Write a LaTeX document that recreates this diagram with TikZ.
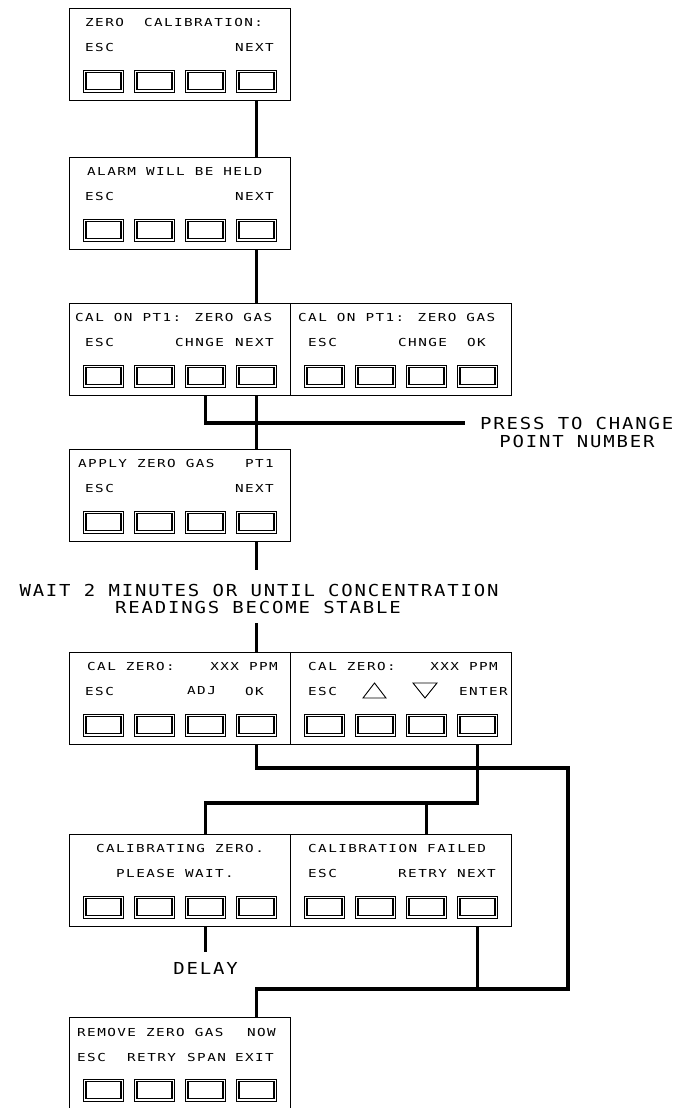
\documentclass[tikz,border=0pt]{standalone}
\usepackage{fontspec}
\setmainfont{DejaVu Sans}
\newfontfamily\lcdfont[FakeStretch=1.3,LetterSpace=13]{DejaVu Sans Mono}
\newfontfamily\notefont[FakeStretch=1.15,LetterSpace=11]{DejaVu Sans Mono}
\newcommand{\lcdpanel}[3]{%
	\node[panel] (#1) at (#2+110.5,#3+46) {};
	\foreach \k in {1,...,4}
		\node[key] (#1k\k) at (#2+34.5+51*\k-51,#3+73) {};
}
\begin{document}
\begin{tikzpicture}[x=1pt,y=-1pt,
		panel/.style={draw,line width=0.9pt,minimum width=221pt,minimum height=92pt,inner sep=0pt},
		key/.style={draw,line width=0.5pt,minimum width=40pt,minimum height=22pt,inner sep=0pt,
			path picture={\draw[line width=1.7pt] ([shift={(2.4pt,2.4pt)}]path picture bounding box.south west) rectangle ([shift={(-2.4pt,-2.4pt)}]path picture bounding box.north east);}},
		lcd/.style={inner sep=0pt,font=\lcdfont\fontsize{11}{13}\selectfont},
		note/.style={inner sep=0pt,font=\notefont\fontsize{16.5}{18}\selectfont},
		wire/.style={line width=3.6pt}]
			\useasboundingbox (0,0) rectangle (678,1108);
			\lcdpanel{p1}{69}{8}
			\lcdpanel{p2}{69}{157}
			\lcdpanel{p3a}{69}{303}
			\lcdpanel{p3b}{290}{303}
			\lcdpanel{p4}{69}{449}
			\lcdpanel{p5a}{69}{652}
			\lcdpanel{p5b}{290}{652}
			\lcdpanel{p6a}{69}{834}
			\lcdpanel{p6b}{290}{834}
			\lcdpanel{p7}{69}{1017}
			\node[lcd,anchor=west] (p1t) at (85,22) {ZERO\ \ CALIBRATION:};
			\node[lcd,anchor=west] (p1esc) at (85,47) {ESC};
			\node[lcd,anchor=east] (p1next) at (274,47) {NEXT};
			\node[lcd,anchor=west] (p2t) at (87,171) {ALARM WILL BE HELD};
			\node[lcd,anchor=west] (p2esc) at (85,196) {ESC};
			\node[lcd,anchor=east] (p2next) at (274,196) {NEXT};
			\node[lcd,anchor=west] (p3at) at (75,317) {CAL ON PT1: ZERO GAS};
			\node[lcd,anchor=west] (p3aesc) at (85,342) {ESC};
			\node[lcd,anchor=west] (p3achg) at (175,342) {CHNGE};
			\node[lcd,anchor=east] (p3anext) at (274,342) {NEXT};
			\node[lcd,anchor=west] (p3bt) at (298,317) {CAL ON PT1: ZERO GAS};
			\node[lcd,anchor=west] (p3besc) at (308,342) {ESC};
			\node[lcd,anchor=west] (p3bchg) at (398,342) {CHNGE};
			\node[lcd,anchor=west] (p3bok) at (467,342) {OK};
			\node[lcd,anchor=west] (p4t) at (78,463) {APPLY ZERO GAS};
			\node[lcd,anchor=east] (p4pt) at (274,463) {PT1};
			\node[lcd,anchor=west] (p4esc) at (85,488) {ESC};
			\node[lcd,anchor=east] (p4next) at (274,488) {NEXT};
			\node[lcd,anchor=west] (p5at) at (87,666) {CAL ZERO:};
			\node[lcd,anchor=east] (p5appm) at (278,666) {XXX PPM};
			\node[lcd,anchor=west] (p5aesc) at (85,691) {ESC};
			\node[lcd,anchor=west] (p5aadj) at (187,691) {ADJ};
			\node[lcd,anchor=west] (p5aok) at (245,691) {OK};
			\node[lcd,anchor=west] (p5bt) at (308,666) {CAL ZERO:};
			\node[lcd,anchor=east] (p5bppm) at (498,666) {XXX PPM};
			\node[lcd,anchor=west] (p5besc) at (308,691) {ESC};
			\node[lcd,anchor=east] (p5benter) at (508,691) {ENTER};
			\draw[line width=0.9pt] (363,698) -- (374.5,683) -- (386,698) -- cycle;
			\draw[line width=0.9pt] (413,683) -- (425,698) -- (437,683) -- cycle;
			\node[lcd] (p6at) at (180,848) {CALIBRATING ZERO.};
			\node[lcd] (p6await) at (175,873) {PLEASE WAIT.};
			\node[lcd,anchor=west] (p6bt) at (308,848) {CALIBRATION FAILED};
			\node[lcd,anchor=west] (p6besc) at (308,873) {ESC};
			\node[lcd,anchor=west] (p6bretry) at (398,873) {RETRY};
			\node[lcd,anchor=east] (p6bnext) at (496,873) {NEXT};
			\node[lcd,anchor=west] (p7t) at (77,1032) {REMOVE ZERO GAS};
			\node[lcd,anchor=east] (p7now) at (276,1032) {NOW};
			\node[lcd,anchor=west] (p7esc) at (77,1057) {ESC};
			\node[lcd,anchor=west] (p7retry) at (127,1057) {RETRY};
			\node[lcd,anchor=west] (p7span) at (187,1057) {SPAN};
			\node[lcd,anchor=east] (p7exit) at (274,1057) {EXIT};
			\node[note,anchor=west] (press) at (480,423) {PRESS TO CHANGE};
			\node[note] (point) at (577,441) {POINT NUMBER};
			\node[note] (wait) at (259,590) {WAIT 2 MINUTES OR UNTIL CONCENTRATION};
			\node[note] (stable) at (258,607) {READINGS BECOME STABLE};
			\node[note] (delay) at (205.5,968) {DELAY};
			\coordinate (okturn) at (568,768);
			\coordinate (okdown) at (568,989);
			\coordinate (split) at (0,803);
			\draw[wire] (p1.south -| p1k4) -- (p2.north -| p1k4);
			\draw[wire] (p2.south -| p2k4) -- (p3a.north -| p2k4);
			\draw[wire] (p3a.south -| p3ak3) |- ([xshift=-15pt]press.west);
			\draw[wire] (p3a.south -| p3ak4) -- (p4.north -| p3ak4);
			\draw[wire,shorten >=14pt] (p4.south -| p4k4) -- (wait.north -| p4k4);
			\draw[wire,shorten <=10pt] (stable.south -| p4k4) -- (p5a.north -| p4k4);
			\draw[wire] (p5a.south -| p5ak4) |- (okturn) -- (okdown) -| (p7.north -| p7k4);
			\draw[wire] (p5b.south -| p5bk4) -- (split -| p5bk4) -| (p6a.north -| p6ak3);
			\draw[wire] (split -| p6bk3) -- (p6b.north -| p6bk3);
			\draw[wire] (p6b.south -| p6bk4) -- (okdown -| p6bk4);
			\draw[wire,shorten >=10pt] (p6a.south -| p6ak3) -- (delay.north);
		\end{tikzpicture}
\end{document}
